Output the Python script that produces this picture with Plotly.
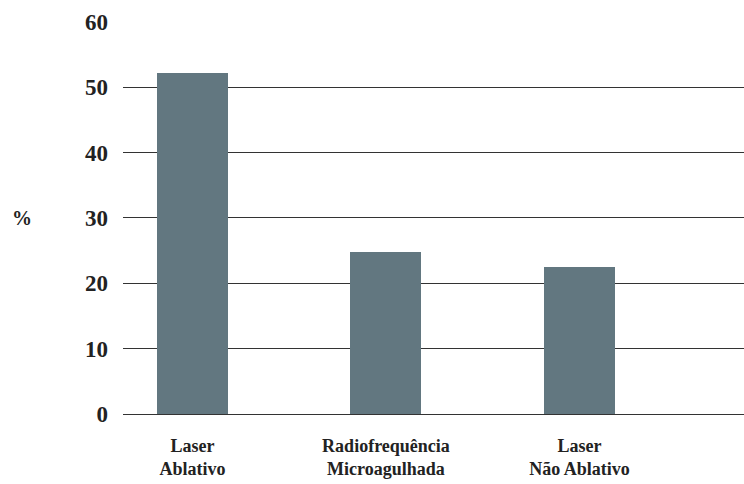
import plotly.graph_objects as go

categories = ["Laser<br>Ablativo", "Radiofrequência<br>Microagulhada", "Laser<br>Não Ablativo"]
values = [52.2, 24.8, 22.5]
y_ticks = [0, 10, 20, 30, 40, 50, 60]

FONT = "Liberation Serif"
TXT = "#222222"

fig = go.Figure(
    go.Bar(
        x=categories,
        y=values,
        marker=dict(color="#627780", line=dict(width=0)),
        width=0.367,
    )
)

fig.update_layout(
    width=744,
    height=484,
    margin=dict(l=123, r=0, t=21, b=70),
    plot_bgcolor="white",
    paper_bgcolor="white",
    showlegend=False,
    font=dict(family=FONT, color=TXT),
    bargap=0,
)

fig.update_xaxes(
    type="category",
    range=[-0.3586, 2.850],
    showgrid=False,
    showline=False,
    zeroline=False,
    ticks="",
    tickfont=dict(family=FONT, size=18, color=TXT, weight="bold"),
    ticklabelstandoff=19,
)

fig.update_yaxes(
    range=[0, 60.15],
    tickvals=y_ticks,
    showgrid=True,
    gridcolor="#333333",
    gridwidth=1,
    zeroline=True,
    zerolinecolor="#333333",
    zerolinewidth=1,
    showline=False,
    ticks="",
    tickfont=dict(family=FONT, size=23, color=TXT, weight="bold"),
    ticklabelstandoff=14,
)

fig.add_annotation(
    text="%",
    xref="paper", yref="paper",
    x=-0.1626, y=0.5,
    xanchor="center", yanchor="middle",
    showarrow=False,
    font=dict(family=FONT, size=20, color=TXT, weight="bold"),
)

fig.write_html(
    "out.html",
    config={"displayModeBar": False},
    post_script="document.body.style.margin='0';document.body.style.overflow='hidden';",
)
